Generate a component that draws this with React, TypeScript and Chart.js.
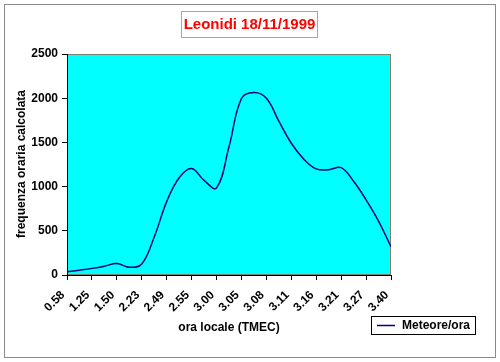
import React, { useEffect, useRef } from "react";
import { Chart, registerables } from "chart.js";

Chart.register(...registerables);

const tickLabels = ["0.58", "1.25", "1.50", "2.23", "2.49", "2.55", "3.00", "3.05", "3.08", "3.11", "3.16", "3.21", "3.27", "3.40"];
const meteoreOra = [37, 55, 75, 100, 130, 87, 125, 430, 830, 1100, 1205, 1070, 985, 1450, 1997, 2065, 2000, 1740, 1490, 1311, 1200, 1190, 1215, 1060, 850, 610, 320];
const seriesName = "Meteore/ora";
const titleText = "Leonidi 18/11/1999";
const xTitle = "ora locale (TMEC)";
const yTitle = "frequenza oraria calcolata";

const FONT = "Arial, 'Liberation Sans', sans-serif";

export default function App() {
  const ref = useRef<HTMLCanvasElement | null>(null);
  useEffect(() => {
    document.body.style.margin = "0";
    const canvas = ref.current!;
    const decor = {
      id: "decor",
      beforeDraw(chart: any) {
        const { ctx, chartArea: a } = chart;
        ctx.save();
        ctx.fillStyle = "#fff";
        ctx.fillRect(0, 0, chart.width, chart.height);
        ctx.fillStyle = "#00FFFF";
        ctx.fillRect(a.left, a.top, a.right - a.left, a.bottom - a.top);
        ctx.strokeStyle = "#7f7f6a";
        ctx.lineWidth = 1;
        ctx.strokeRect(Math.round(a.left) + 0.5, Math.round(a.top) + 0.5, a.right - a.left - 1, a.bottom - a.top - 1);
        ctx.restore();
      },
      afterDraw(chart: any) {
        const { ctx } = chart;
        ctx.save();
        ctx.strokeStyle = "#8a8a8a";
        ctx.lineWidth = 1;
        ctx.strokeRect(4.5, 4.5, 491, 353);
        ctx.strokeStyle = "#ff8080";
        ctx.strokeRect(181.5, 11.5, 136, 26);
        ctx.fillStyle = "#ff0000";
        ctx.font = "bold 15px " + FONT;
        ctx.textAlign = "center";
        ctx.textBaseline = "middle";
        ctx.fillText(titleText, 249.5, 25);
        ctx.fillStyle = "#000";
        ctx.font = "bold 12px " + FONT;
        ctx.fillText(xTitle, 229, 328);
        ctx.save();
        ctx.translate(22, 164);
        ctx.rotate(-Math.PI / 2);
        ctx.fillText(yTitle, 0, 0);
        ctx.restore();
        ctx.strokeStyle = "#000";
        ctx.strokeRect(371.5, 316.5, 104, 18);
        ctx.strokeStyle = "#000080";
        ctx.lineWidth = 1.5;
        ctx.beginPath();
        ctx.moveTo(377, 325.5);
        ctx.lineTo(395, 325.5);
        ctx.stroke();
        ctx.fillStyle = "#000";
        ctx.textAlign = "left";
        ctx.fillText(seriesName, 402, 326);
        ctx.restore();
      },
    };
    const chart = new Chart(canvas, {
      type: "line",
      data: {
        datasets: [
          {
            label: seriesName,
            data: meteoreOra.map((v, i) => ({ x: i, y: v })),
            borderColor: "#000080",
            borderWidth: 1.5,
            pointRadius: 0,
            tension: 0.4,
            fill: false,
          },
        ],
      },
      options: {
        animation: false,
        responsive: false,
        layout: { padding: { left: 0, top: 54, right: 109, bottom: 0 } },
        plugins: { legend: { display: false }, title: { display: false }, tooltip: { enabled: false } },
        scales: {
          x: {
            type: "linear",
            min: 0,
            max: meteoreOra.length - 1,
            afterFit: (s: any) => { s.height = 87; },
            grid: { drawOnChartArea: false, drawTicks: true, tickLength: 5, color: "#000" },
            border: { display: true, color: "#000" },
            ticks: {
              stepSize: 2,
              autoSkip: false,
              maxRotation: 45,
              minRotation: 45,
              padding: 8,
              labelOffset: -4,
              color: "#000",
              font: { family: FONT, size: 12, weight: "bold" },
              callback: (v: any) => tickLabels[Math.round(Number(v) / 2)] ?? "",
            },
          },
          y: {
            min: 0,
            max: 2500,
            afterFit: (s: any) => { s.width = 67; },
            grid: { drawOnChartArea: false, drawTicks: true, tickLength: 5, color: "#000" },
            border: { display: true, color: "#000" },
            ticks: {
              stepSize: 500,
              padding: 4,
              color: "#000",
              font: { family: FONT, size: 12, weight: "bold" },
              callback: (v: any) => String(v),
            },
          },
        },
      },
      plugins: [decor],
    } as any);
    return () => chart.destroy();
  }, []);
  return (
    <div style={{ position: "absolute", left: 0, top: 0, width: 500, height: 362 }}>
      <canvas ref={ref} width={500} height={362} style={{ width: 500, height: 362 }} />
    </div>
  );
}
